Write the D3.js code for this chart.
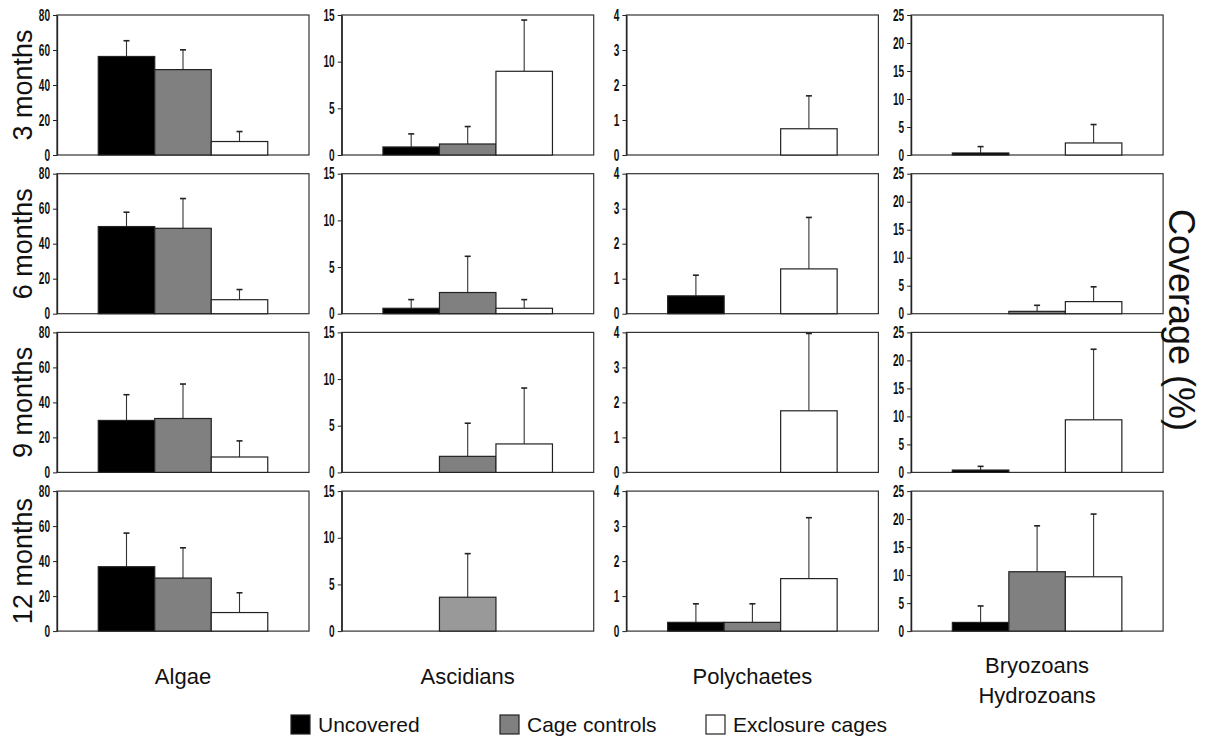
<!DOCTYPE html>
<html lang="en">
  <head>
    <meta charset="UTF-8" />
    <title>Coverage by taxon</title>
    <style>
      html,
      body {
        margin: 0;
        background: #fff;
        font-family: 'Liberation Sans', Arial, sans-serif;
      }
    </style>
  </head>
  <body>
    <div id="chart"></div>

    <script src="https://cdnjs.cloudflare.com/ajax/libs/d3/7.8.5/d3.min.js"></script>
    <script>
      const months = ["3 months", "6 months", "9 months", "12 months"];
      const taxa = [["Algae"], ["Ascidians"], ["Polychaetes"], ["Bryozoans", "Hydrozoans"]];
      const treatments = ["Uncovered", "Cage controls", "Exclosure cages"];
      const yMax = [80, 15, 4, 25];
      const yStep = [20, 5, 1, 5];

      // mean coverage per month, [uncovered, cage controls, exclosure cages]
      const algaeMean = [[56.3, 48.8, 7.7], [49.8, 48.8, 8.0], [29.7, 30.8, 8.8], [36.8, 30.3, 10.6]];
      const algaeSE = [[9.0, 11.3, 5.7], [8.2, 17.0, 5.8], [14.7, 19.7, 9.2], [19.2, 17.3, 11.3]];
      const ascidMean = [[0.86, 1.18, 8.97], [0.58, 2.27, 0.58], [0, 1.72, 3.05], [0, 3.63, 0]];
      const ascidSE = [[1.4, 1.87, 5.49], [0.93, 3.88, 0.93], [0, 3.55, 5.99], [0, 4.67, 0]];
      const polyMean = [[0, 0, 0.75], [0.51, 0, 1.28], [0, 0, 1.76], [0.25, 0.25, 1.5]];
      const polySE = [[0, 0, 0.94], [0.59, 0, 1.47], [0, 0, 2.21], [0.53, 0.53, 1.74]];
      const bryoMean = [[0.36, 0, 2.15], [0, 0.42, 2.16], [0.42, 0, 9.39], [1.55, 10.6, 9.7]];
      const bryoSE = [[1.14, 0, 3.29], [0, 1.08, 2.64], [0.66, 0, 12.6], [2.94, 8.2, 11.2]];

      const means = [algaeMean, ascidMean, polyMean, bryoMean];
      const errors = [algaeSE, ascidSE, polySE, bryoSE];

      const fills = ["#000", "#808080", "#fff"];

      const W = 1216,
        H = 742,
        panel = { left: 57, top: 15, w: 252, h: 140, dx: 284.7, dy: 158.7 };

      const svg = d3
        .select("#chart")
        .append("svg")
        .attr("width", W)
        .attr("height", H);

      const x = d3
        .scaleBand()
        .domain(treatments)
        .range([0, panel.w])
        .paddingInner(0)
        .paddingOuter(0.73);

      taxa.forEach((taxon, c) => {
        const y = d3.scaleLinear().domain([0, yMax[c]]).range([panel.h, 0]);
        const ticks = d3.range(0, yMax[c] + 0.001, yStep[c]);

        months.forEach((m, r) => {
          const g = svg
            .append("g")
            .attr(
              "transform",
              `translate(${panel.left + c * panel.dx},${panel.top + r * panel.dy})`
            );

          g.append("rect")
            .attr("width", panel.w)
            .attr("height", panel.h)
            .attr("fill", "none")
            .attr("stroke", "#333")
            .attr("stroke-width", 1.2);

          const axis = g.append("g").call(
            d3
              .axisLeft(y)
              .tickValues(ticks)
              .tickFormat(d3.format("d"))
              .tickSize(4)
              .tickSizeOuter(0)
              .tickPadding(3)
          );
          axis
            .attr("font-family", "'Liberation Sans', Arial, sans-serif")
            .attr("font-size", 16)
            .attr("font-weight", "bold");
          axis.select(".domain").attr("stroke", "#222").attr("stroke-width", 1.3);
          axis.selectAll(".tick line").attr("stroke", "#222");
          // the printed labels are a narrow bold face, squeeze them
          axis
            .selectAll(".tick text")
            .attr("fill", "#111")
            .attr("textLength", (d) => String(d).length * 5.6)
            .attr("lengthAdjust", "spacingAndGlyphs");

          const rows = treatments
            .map((t, i) => ({ t, i, v: means[c][r][i], e: errors[c][r][i] }))
            .filter((d) => d.v > 0);

          // error bars first so the bar outline sits on top
          rows
            .filter((d) => d.e > 0)
            .forEach((d) => {
              const cx = x(d.t) + x.bandwidth() / 2;
              g.append("line")
                .attr("x1", cx)
                .attr("x2", cx)
                .attr("y1", y(d.v))
                .attr("y2", y(d.v + d.e))
                .attr("stroke", "#333")
                .attr("stroke-width", 1.1);
              g.append("line")
                .attr("x1", cx - 3)
                .attr("x2", cx + 3)
                .attr("y1", y(d.v + d.e))
                .attr("y2", y(d.v + d.e))
                .attr("stroke", "#222")
                .attr("stroke-width", 1.6);
            });

          g.selectAll(".bar")
            .data(rows)
            .join("rect")
            .attr("class", "bar")
            .attr("x", (d) => x(d.t))
            .attr("y", (d) => y(d.v))
            .attr("width", x.bandwidth())
            .attr("height", (d) => y(0) - y(d.v))
            // the 12 month ascidian cage control bar is printed lighter
            .attr("fill", (d) => (c === 1 && r === 3 && d.i === 1 ? "#999" : fills[d.i]))
            .attr("stroke", "#222")
            .attr("stroke-width", 1.2);

          if (c === 0) {
            svg
              .append("text")
              .attr(
                "transform",
                `translate(32,${panel.top + r * panel.dy + panel.h / 2}) rotate(-90)`
              )
              .attr("text-anchor", "middle")
              .attr("font-size", 27)
              .attr("fill", "#111")
              .text(m);
          }
        });

        // column labels
        const lab = svg
          .append("text")
          .attr("text-anchor", "middle")
          .attr("font-size", 22)
          .attr("fill", "#111");
        taxon.forEach((line, k) => {
          lab
            .append("tspan")
            .attr("x", panel.left + c * panel.dx + panel.w / 2)
            .attr("y", (taxon.length > 1 ? 673 : 684) + k * 30)
            .text(line);
        });
      });

      svg
        .append("text")
        .attr("transform", "translate(1169,320) rotate(90)")
        .attr("text-anchor", "middle")
        .attr("font-size", 36)
        .attr("fill", "#111")
        .text("Coverage (%)");

      // legend
      const legendX = [291, 500, 706];
      treatments.forEach((t, i) => {
        svg
          .append("rect")
          .attr("x", legendX[i])
          .attr("y", 715)
          .attr("width", 19)
          .attr("height", 19)
          .attr("fill", fills[i])
          .attr("stroke", "#222")
          .attr("stroke-width", 1.2);
        svg
          .append("text")
          .attr("x", legendX[i] + 27)
          .attr("y", 732)
          .attr("font-size", 21)
          .attr("fill", "#111")
          .text(t);
      });
    </script>
  </body>
</html>
